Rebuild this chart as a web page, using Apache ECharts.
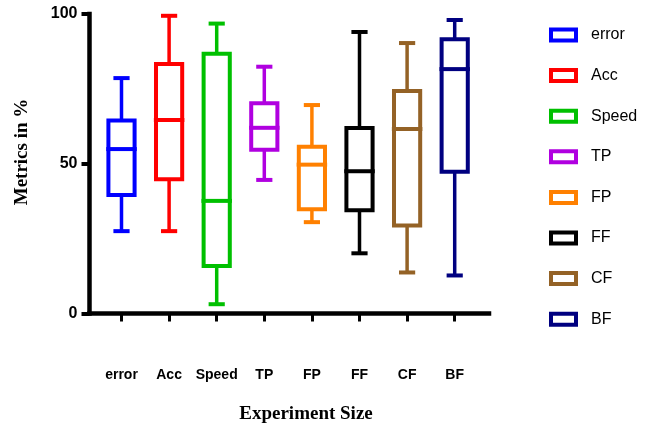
<!DOCTYPE html>
<html><head><meta charset="utf-8">
<script src="https://cdn.jsdelivr.net/npm/echarts@6/dist/echarts.min.js"></script>
<style>html,body{margin:0;padding:0;background:#fff}#c{width:667px;height:426px}</style>
</head><body><div id="c"></div>
<script>
const categories = ['error', 'Acc', 'Speed', 'TP', 'FP', 'FF', 'CF', 'BF'];
const whiskerLow  = [27.5, 27.5, 3.1, 44.6, 30.5, 20.1, 13.7, 12.7];
const q1          = [39.6, 44.8, 15.9, 54.7, 34.8, 34.5, 29.4, 47.3];
const median      = [54.9, 64.6, 37.6, 62.0, 49.7, 47.5, 61.6, 81.6];
const q3          = [64.4, 83.3, 86.7, 70.2, 55.7, 61.9, 74.3, 91.6];
const whiskerHigh = [78.6, 99.4, 96.8, 82.4, 69.6, 94.0, 90.3, 98.0];
const yTicks = [0, 50, 100];

const colors = ['#0000ff', '#ff0000', '#00c000', '#b000e0', '#ff8000', '#000000', '#946226', '#000080'];

const chart = echarts.init(document.getElementById('c'), null, {renderer: 'canvas'});

function renderItem(params, api) {
  const x = api.value(0);
  const pLo = api.coord([x, api.value(1)]);
  const pQ1 = api.coord([x, api.value(2)]);
  const pMed = api.coord([x, api.value(3)]);
  const pQ3 = api.coord([x, api.value(4)]);
  const pHi = api.coord([x, api.value(5)]);
  const band = api.size([1, 0])[0];
  const cx = pLo[0];
  const boxW = band * 0.55, capW = band * 0.34, medW = band * 0.64;
  const color = api.visual('color');
  const ls = {stroke: color, lineWidth: 3.5};
  const cs = {stroke: color, lineWidth: 4};
  return {type: 'group', children: [
    {type: 'line', shape: {x1: cx, y1: pLo[1], x2: cx, y2: pQ1[1]}, style: ls},
    {type: 'line', shape: {x1: cx, y1: pQ3[1], x2: cx, y2: pHi[1]}, style: ls},
    {type: 'line', shape: {x1: cx - capW / 2, y1: pLo[1], x2: cx + capW / 2, y2: pLo[1]}, style: cs},
    {type: 'line', shape: {x1: cx - capW / 2, y1: pHi[1], x2: cx + capW / 2, y2: pHi[1]}, style: cs},
    {type: 'rect', shape: {x: cx - boxW / 2, y: pQ3[1], width: boxW, height: pQ1[1] - pQ3[1]}, style: {fill: '#fff', stroke: color, lineWidth: 4}},
    {type: 'line', shape: {x1: cx - medW / 2, y1: pMed[1], x2: cx + medW / 2, y2: pMed[1]}, style: cs}
  ]};
}

const series = categories.map((c, i) => ({
  name: c,
  type: 'custom',
  xAxisIndex: 1,
  yAxisIndex: 1,
  renderItem: renderItem,
  itemStyle: {color: colors[i]},
  encode: {x: 0, y: [1, 2, 3, 4, 5]},
  data: [[i, whiskerLow[i], q1[i], median[i], q3[i], whiskerHigh[i]]]
}));

const option = {
  animation: false,
  backgroundColor: '#fff',
  grid: [
    {left: 89.5, right: 178, top: 14, bottom: 112.5},
    {left: 97.7, right: 188.5, top: 14, bottom: 112.5}
  ],
  xAxis: [
    {type: 'value', gridIndex: 0, min: 0, max: 1, position: 'bottom',
     axisLine: {show: true, lineStyle: {color: '#000', width: 4.5, cap: 'square'}},
     axisTick: {show: false}, axisLabel: {show: false}, splitLine: {show: false}},
    {type: 'category', gridIndex: 1, data: categories, boundaryGap: true,
     axisLine: {show: false},
     axisTick: {show: true, interval: 0, alignWithLabel: true, length: 8, lineStyle: {color: '#000', width: 3}},
     axisLabel: {interval: 0, margin: 55, fontWeight: 'bold', fontSize: 14, color: '#000', fontFamily: 'Liberation Sans'},
     splitLine: {show: false}}
  ],
  yAxis: [
    {type: 'value', gridIndex: 0, min: yTicks[0], max: yTicks[yTicks.length - 1], interval: 50,
     axisLine: {show: true, lineStyle: {color: '#000', width: 4.5, cap: 'square'}},
     axisTick: {show: true, length: 8, lineStyle: {color: '#000', width: 4}},
     axisLabel: {margin: 12, fontWeight: 'bold', fontSize: 16, color: '#000', fontFamily: 'Liberation Sans'},
     splitLine: {show: false}},
    {type: 'value', gridIndex: 1, min: 0, max: 100, show: false}
  ],
  legend: {
    orient: 'vertical', left: 549, top: 27, padding: 0,
    icon: 'rect', itemWidth: 25, itemHeight: 11, itemGap: 24.6,
    selectedMode: false,
    textStyle: {fontSize: 16, color: '#000', fontFamily: 'Liberation Sans', lineHeight: 16, padding: [0, 0, 0, 10]},
    data: categories.map((c, i) => ({name: c, itemStyle: {color: '#fff', borderColor: colors[i], borderWidth: 4}}))
  },
  graphic: [
    {type: 'text', x: 22, y: 152, rotation: Math.PI / 2,
     style: {text: 'Metrics in %', font: 'bold 19px "Liberation Serif"', fill: '#000', textAlign: 'center', textVerticalAlign: 'middle'}},
    {type: 'text', x: 306, y: 414,
     style: {text: 'Experiment Size', font: 'bold 19px "Liberation Serif"', fill: '#000', textAlign: 'center', textVerticalAlign: 'middle'}}
  ],
  series: series
};
chart.setOption(option);
</script></body></html>
